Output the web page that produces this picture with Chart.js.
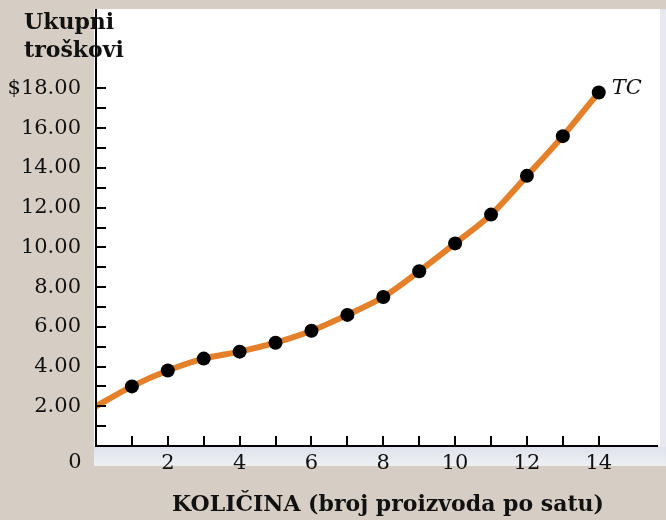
<!DOCTYPE html>
<html>
<head>
<meta charset="utf-8">
<script src="https://cdn.jsdelivr.net/npm/chart.js@4.4.1/dist/chart.umd.min.js"></script>
<style>
  html, body { margin: 0; padding: 0; background: #d6cec4; }
  #wrap { width: 666px; height: 520px; }
</style>
</head>
<body>
<div id="wrap"><canvas id="tcChart" width="666" height="520"></canvas></div>
<script>
// quantity (units per hour) and total cost ($)
const quantity = [0, 1, 2, 3, 4, 5, 6, 7, 8, 9, 10, 11, 12, 13, 14];
const totalCost = [2.0, 3.0, 3.8, 4.4, 4.75, 5.2, 5.8, 6.6, 7.5, 8.8, 10.2, 11.65, 13.6, 15.6, 17.8];
const xLabelValues = [2, 4, 6, 8, 10, 12, 14];
const yLabelValues = [2, 4, 6, 8, 10, 12, 14, 16, 18];
const seriesName = 'TC';
const yTitle = ['Ukupni', 'troškovi'];
const xTitle = 'KOLIČINA (broj proizvoda po satu)';

const SERIF = '"DejaVu Serif", serif';

const panelPlugin = {
  id: 'panel',
  beforeDraw(chart) {
    const { ctx, chartArea: a } = chart;
    ctx.save();
    ctx.fillStyle = '#d6cec4';
    ctx.fillRect(0, 0, chart.width, chart.height);
    // light bluish frame around the white panel
    const g = ctx.createLinearGradient(0, a.bottom, 0, a.bottom + 20);
    g.addColorStop(0, '#dde1ea');
    g.addColorStop(1, '#eef0f4');
    ctx.fillStyle = g;
    ctx.fillRect(a.left - 2, a.top, chart.width - a.left + 2, a.bottom - a.top + 20);
    ctx.fillStyle = '#e6e9f0';
    ctx.fillRect(a.right + 2, a.top + 1, chart.width - a.right, a.bottom - a.top);
    ctx.fillStyle = '#ffffff';
    ctx.fillRect(a.left - 2, a.top, a.right - a.left + 4, a.bottom - a.top);
    ctx.restore();
  },
  afterDatasetsDraw(chart) {
    const { ctx, chartArea: a, scales: { x, y } } = chart;
    ctx.save();
    ctx.strokeStyle = '#000';
    ctx.lineWidth = 2;
    // inward tick marks
    for (let i = 1; i <= 18; i++) {
      const py = Math.round(y.getPixelForValue(i));
      ctx.beginPath();
      ctx.moveTo(a.left, py);
      ctx.lineTo(a.left + 10, py);
      ctx.stroke();
    }
    for (let i = 1; i <= 14; i++) {
      const px = Math.round(x.getPixelForValue(i));
      ctx.beginPath();
      ctx.moveTo(px, a.bottom);
      ctx.lineTo(px, a.bottom - 10);
      ctx.stroke();
    }
    // axes
    ctx.beginPath();
    ctx.moveTo(a.left, a.top);
    ctx.lineTo(a.left, a.bottom);
    ctx.lineTo(a.right, a.bottom);
    ctx.stroke();

    ctx.fillStyle = '#111';
    // origin label
    ctx.textBaseline = 'middle';
    ctx.font = '21px ' + SERIF;
    ctx.textAlign = 'center';
    ctx.fillText('0', 75, a.bottom + 17);
    // y title
    ctx.textBaseline = 'alphabetic';
    ctx.font = 'bold 22px ' + SERIF;
    ctx.textAlign = 'left';
    ctx.fillText(yTitle[0], 24, 29);
    ctx.fillText(yTitle[1], 24, 57);
    // series label
    const last = totalCost.length - 1;
    ctx.font = 'italic 21px ' + SERIF;
    ctx.fillText(seriesName, x.getPixelForValue(quantity[last]) + 13, y.getPixelForValue(totalCost[last]) + 2);
    // x title
    ctx.font = 'bold 22px ' + SERIF;
    ctx.textAlign = 'center';
    ctx.fillText(xTitle, 388, 511);
    ctx.restore();
  }
};

const ctx = document.getElementById('tcChart').getContext('2d');
new Chart(ctx, {
  type: 'line',
  data: {
    datasets: [{
      label: seriesName,
      data: quantity.map((q, i) => ({ x: q, y: totalCost[i] })),
      borderColor: '#e4802a',
      borderWidth: 6,
      tension: 0.3,
      pointRadius: quantity.map(q => q === 0 ? 0 : 7),
      pointHoverRadius: 7,
      pointBackgroundColor: '#000',
      pointBorderWidth: 0,
      clip: false
    }]
  },
  options: {
    responsive: false,
    animation: false,
    layout: { padding: { top: 9, right: 8, left: 0, bottom: 0 } },
    plugins: {
      legend: { display: false },
      tooltip: { enabled: false }
    },
    scales: {
      x: {
        type: 'linear',
        min: 0,
        max: 15.65,
        grid: { display: false, drawTicks: false },
        border: { display: false },
        afterFit(scale) {
          scale.height = 74;
          scale.paddingLeft = 0;
          scale.paddingRight = 0;
        },
        afterBuildTicks(scale) {
          scale.ticks = xLabelValues.map(v => ({ value: v }));
        },
        ticks: {
          autoSkip: false,
          maxRotation: 0,
          padding: 5,
          color: '#111',
          font: { family: SERIF, size: 21 },
          callback: v => String(v)
        }
      },
      y: {
        min: 0,
        max: 22,
        grid: { display: false, drawTicks: false },
        border: { display: false },
        afterFit(scale) {
          scale.width = 96;
          scale.paddingTop = 0;
          scale.paddingBottom = 0;
        },
        afterBuildTicks(scale) {
          scale.ticks = yLabelValues.map(v => ({ value: v }));
        },
        ticks: {
          autoSkip: false,
          padding: 15,
          color: '#111',
          font: { family: SERIF, size: 21 },
          callback: v => (v === 18 ? '$' : '') + v.toFixed(2)
        }
      }
    }
  },
  plugins: [panelPlugin]
});
</script>
</body>
</html>
